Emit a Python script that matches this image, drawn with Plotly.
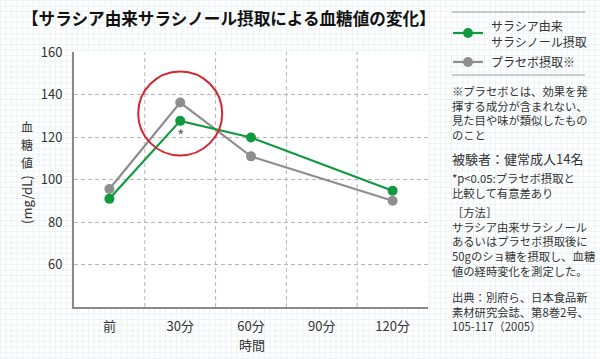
import plotly.graph_objects as go

# ---------------- data ----------------
categories = ['前', '30分', '60分', '90分', '120分']
sample_times = ['前', '30分', '60分', '120分']
salacinol = [90.9, 127.6, 119.8, 94.7]
placebo = [95.5, 136.2, 110.9, 90.0]
y_ticks = [60, 80, 100, 120, 140, 160]
y_range = [40, 160]
series_names = ['サラシア由来<br>サラシノール摂取', 'プラセボ摂取※']
title_text = '【サラシア由来サラシノール摂取による血糖値の変化】'
y_title_kanji = ['血', '糖', '値']
y_title_unit = '(mg/dL)'
x_title = '時間'
note_text = '※プラセボとは、効果を発<br>揮する成分が含まれない、<br>見た目や味が類似したもの<br>のこと'
subject_text = '被験者：健常成人14名'
sig_text = '*p<0.05:プラセボ摂取と<br>比較して有意差あり'
method_text = '［方法］<br>サラシア由来サラシノール<br>あるいはプラセボ摂取後に<br>50gのショ糖を摂取し、血糖<br>値の経時変化を測定した。'
source_text = '出典：別府ら、日本食品新<br>素材研究会誌、第8巻2号、<br>105-117（2005）'

# ---------------- style ----------------
GREEN = '#0f9a3d'
GRAY = '#8e8e8e'
RED = '#d3262e'
TXT = '#333333'
FONT = 'Noto Sans CJK JP'

W, H = 600, 359
L, R, T, B = 74, 428, 52, 307


def px(x):
    return (x - L) / (R - L)


def py(y):
    return (B - y) / (B - T)


fig = go.Figure()
fig.add_trace(go.Scatter(x=sample_times, y=placebo, mode='lines+markers',
                         line=dict(color=GRAY, width=2.2),
                         marker=dict(color=GRAY, size=10), name='プラセボ摂取※'))
fig.add_trace(go.Scatter(x=sample_times, y=salacinol, mode='lines+markers',
                         line=dict(color=GREEN, width=2.2),
                         marker=dict(color=GREEN, size=10), name='サラシノール'))

shapes = []
# grid paper background
pitch = 5.5
gcol = '#ebf3f6'
x = 0.5
while x < W:
    shapes.append(dict(type='line', xref='paper', yref='paper', x0=px(x), x1=px(x),
                       y0=py(0), y1=py(H), line=dict(color=gcol, width=1), layer='below'))
    x += pitch
y = 0.5
while y < H:
    shapes.append(dict(type='line', xref='paper', yref='paper', x0=px(0), x1=px(W),
                       y0=py(y), y1=py(y), line=dict(color=gcol, width=1), layer='below'))
    y += pitch
# white plot panel
shapes.append(dict(type='rect', xref='paper', yref='paper', x0=0, x1=1, y0=0, y1=1,
                   fillcolor='white', line=dict(width=0), layer='below'))
# vertical dashed separators between categories
for i in range(len(categories) - 1):
    shapes.append(dict(type='line', xref='x', yref='paper', x0=i + 0.5, x1=i + 0.5,
                       y0=0, y1=1, line=dict(color='#b5b5b5', width=1, dash='4px,3px'),
                       layer='below'))
# red highlight circle around the 30分 values
shapes.append(dict(type='circle', xref='x', yref='y', xsizemode='pixel', ysizemode='pixel',
                   xanchor=1, yanchor=(salacinol[1] + placebo[1]) / 2 - 0.8,
                   x0=-42, x1=42, y0=-42, y1=42, line=dict(color=RED, width=2)))

# legend box lines
for yy in (12, 75):
    shapes.append(dict(type='line', xref='paper', yref='paper', x0=px(452), x1=px(585),
                       y0=py(yy), y1=py(yy), line=dict(color='#999999', width=1)))
# legend samples
for yy, col in ((33, GREEN), (62, GRAY)):
    shapes.append(dict(type='line', xref='paper', yref='paper', x0=px(453), x1=px(483),
                       y0=py(yy), y1=py(yy), line=dict(color=col, width=2.2)))
    shapes.append(dict(type='circle', xref='paper', yref='paper', xsizemode='pixel',
                       ysizemode='pixel', xanchor=px(468), yanchor=py(yy),
                       x0=-5, x1=5, y0=-5, y1=5, fillcolor=col, line=dict(width=0)))

ann = []


def text(xp, yp, s, size, color=TXT, xanchor='left', yanchor='middle', **kw):
    ann.append(dict(xref='paper', yref='paper', x=px(xp), y=py(yp), text=s, showarrow=False,
                    xanchor=xanchor, yanchor=yanchor, align='left',
                    font=dict(family=FONT, size=size, color=color), **kw))


text(20, 18, '<b>' + title_text + '</b>', 16.6, color='#111111')
text(489, 33, series_names[0], 12, yanchor='middle')
text(489, 62, series_names[1], 12)
text(450, 81, note_text, 11.3, yanchor='top')
text(450, 158, subject_text, 13)
text(450, 168, sig_text, 11.3, yanchor='top')
text(450, 202, method_text, 11.3, yanchor='top')
text(450, 287, source_text, 11.3, yanchor='top')
# y axis title: upright kanji stacked + rotated unit
for k, ch in enumerate(y_title_kanji):
    text(27, 127 + 17.5 * k, ch, 12, xanchor='center')
text(27, 200, y_title_unit, 13, xanchor='center', textangle=-90)
# x axis title
text(252, 344, x_title, 13, xanchor='center')
# significance mark
ann.append(dict(xref='x', yref='y', x=sample_times[1], y=salacinol[1], text='*',
                showarrow=False, yshift=-14, font=dict(family=FONT, size=16, color='#666666')))

fig.update_layout(
    width=W, height=H,
    margin=dict(l=L, r=W - R, t=T, b=H - B, pad=0),
    paper_bgcolor='white', plot_bgcolor='rgba(0,0,0,0)',
    showlegend=False,
    shapes=shapes, annotations=ann,
    font=dict(family=FONT, color=TXT),
)
fig.update_xaxes(type='category', categoryorder='array', categoryarray=categories,
                 range=[-0.5, len(categories) - 0.5], showgrid=False, zeroline=False,
                 showline=True, linecolor='#8a8a8a', linewidth=2, ticks='',
                 ticklabelstandoff=6, tickfont=dict(size=13, color=TXT, family=FONT))
fig.update_yaxes(range=y_range, tickvals=y_ticks, showgrid=True, gridcolor='#b5b5b5',
                 griddash='4px,3px', gridwidth=1, zeroline=False, showline=True,
                 linecolor='#8a8a8a', linewidth=2, ticks='', ticklabelstandoff=7,
                 tickfont=dict(size=13, color=TXT, family=FONT))

fig.write_html('out.html', config={'displayModeBar': False},
               post_script="document.body.style.margin='0';document.body.style.overflow='hidden';")
